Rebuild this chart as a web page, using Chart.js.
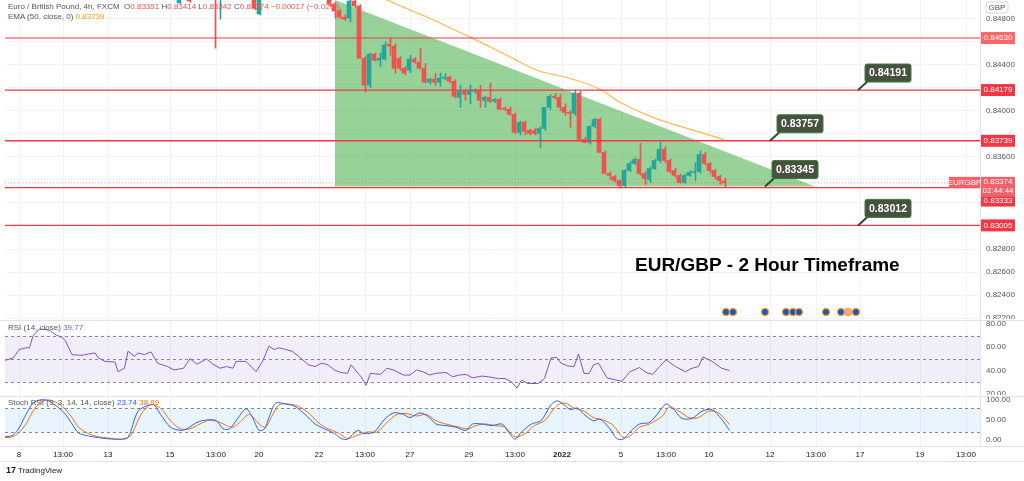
<!DOCTYPE html>
<html><head><meta charset="utf-8">
<script src="https://cdn.jsdelivr.net/npm/chart.js@4"></script>
<style>
html,body{margin:0;padding:0;background:#fff;width:1024px;height:481px;overflow:hidden;font-family:"Liberation Sans",Arial,sans-serif}
.pane{position:absolute;left:0;width:1024px}
.lbl{position:absolute;font-size:8px;color:#555;white-space:nowrap}
</style></head><body>
<div class="pane" style="top:0;height:319px"><canvas id="main"></canvas></div>
<div class="pane" style="top:320px;height:75px"><canvas id="rsi"></canvas></div>
<div class="pane" style="top:396px;height:66px"><canvas id="stoch"></canvas></div>
<div class="lbl" style="left:8px;top:2px">Euro / British Pound, 4h, FXCM&nbsp; O<span style="color:#ef5350">0.83391</span> H<span style="color:#ef5350">0.83414</span> L<span style="color:#ef5350">0.83342</span> C<span style="color:#ef5350">0.83374</span> <span style="color:#ef5350">−0.00017 (−0.02%)</span></div>
<div class="lbl" style="left:8px;top:12px">EMA (50, close, 0) <span style="color:#ff9800">0.83739</span></div>
<div class="lbl" style="left:8px;top:323px">RSI (14, close) <span style="color:#7e57c2">39.77</span></div>
<div class="lbl" style="left:8px;top:398px">Stoch RSI (3, 3, 14, 14, close) <span style="color:#2962ff">23.74</span> <span style="color:#ff6d00">38.89</span></div>
<div class="lbl" style="left:6px;top:465px;font-size:8px;color:#131722"><b style="font-size:9px">17</b> TradingView</div>
<script>
// ---- data ----
const tickPos = [2.8,11.6,20.6,33,42.2,50.8,62.8,72,81,92.8,102,111.4,123.2,132.2,140.8,153,162.2,171,183,192.2];
const tickLabels = ["8","13:00","13","15","13:00","20","22","13:00","27","29","13:00","2022","5","13:00","10","12","13:00","17","19","13:00"];
const priceTicks = [0.822,0.824,0.826,0.828,0.830,0.832,0.834,0.836,0.838,0.840,0.842,0.844,0.846,0.848];

const candleIdx = [35,37,42,43,50,51,
 65,66,67,68,69,70,71,72,73,74,75,76,77,78,79,80,81,82,83,84,85,86,87,88,89,90,91,92,93,94,95,96,97,98,99,100,101,102,103,104,
 105,106,107,108,109,110,111,112,113,114,115,116,117,118,119,120,121,122,123,124,125,126,127,128,129,130,131,132,133,134,135,136,137,138,139,140,141,142,143,144];
const cOpen = [.84935,.8505,.8510,.8508,.8505,.84838,
 .84960,.84925,.84864,.84812,.84803,.84951,.84908,.84455,.84221,.84490,.84438,.84447,.84577,.84560,.84455,.84368,.84351,.84447,.84421,.84368,
 .84247,.84273,.84247,.84281,.84290,.84255,.84116,.84168,.84142,.84168,.84177,.84090,.84116,.84081,.84099,.84020,.84012,.83968,.83812,.83899,
 .83829,.83829,.83803,.83846,.84029,.84125,.84116,.84029,.83986,.83977,.84151,.83751,.83725,.83864,.83925,.83638,.83455,.83429,.83394,.83351,
 .83481,.83542,.83577,.83455,.83403,.83498,.83568,.83664,.83568,.83481,.83438,.83377,.83438,.83464,.83472,.83620,.83542,.83481,.83429,.83391];
const cHigh = [.8510,.8508,.8515,.8512,.8508,.8508,
 .84990,.84940,.84880,.84830,.84965,.84980,.84920,.84470,.84500,.84500,.84500,.84595,.84630,.84580,.84470,.84380,.84480,.84460,.84540,.84410,
 .84280,.84325,.84325,.84320,.84300,.84270,.84221,.84180,.84221,.84190,.84221,.84125,.84240,.84110,.84110,.84030,.84030,.83980,.83910,.83910,
 .83840,.83850,.83860,.84029,.84140,.84150,.84140,.84060,.84000,.84177,.84170,.83770,.83870,.83935,.83935,.83650,.83470,.83440,.83400,.83490,
 .83560,.83590,.83716,.83470,.83510,.83580,.83725,.83690,.83580,.83500,.83450,.83450,.83480,.83550,.83650,.83640,.83550,.83490,.83440,.83414];
const cLow = [.8493,.8494,.84542,.84795,.84875,.84830,
 .84900,.84803,.84800,.84780,.84769,.84890,.84455,.84160,.84200,.84430,.84380,.84440,.84480,.84325,.84350,.84310,.84330,.84410,.84360,.84240,
 .84230,.84221,.84210,.84270,.84240,.84110,.84029,.84090,.84060,.84150,.84029,.84029,.84070,.84070,.84012,.84000,.83960,.83800,.83790,.83790,
 .83790,.83790,.83681,.83830,.84010,.84100,.84000,.83960,.83855,.83960,.83751,.83720,.83710,.83850,.83638,.83455,.83400,.83380,.83330,.83330,
 .83470,.83530,.83440,.83360,.83380,.83490,.83550,.83550,.83460,.83420,.83370,.83370,.83430,.83394,.83460,.83530,.83460,.83410,.83360,.83342];
const cClose = [.8505,.84951,.8508,.8510,.84890,.8505,
 .84925,.84864,.84812,.84795,.84951,.84908,.84455,.84221,.84490,.84438,.84455,.84569,.84560,.84368,.84368,.84325,.84447,.84421,.84368,.84247,
 .84273,.84247,.84281,.84290,.84255,.84125,.84168,.84142,.84168,.84177,.84090,.84116,.84081,.84099,.84012,.84012,.83968,.83812,.83899,.83820,
 .83803,.83803,.83846,.84029,.84125,.84116,.84029,.83986,.83977,.84151,.83751,.83725,.83864,.83925,.83638,.83455,.83438,.83394,.83351,.83481,
 .83542,.83577,.83455,.83412,.83498,.83568,.83664,.83568,.83472,.83438,.83377,.83438,.83464,.83472,.83620,.83542,.83481,.83429,.83394,.83374];

const emaIdx = [74,76.4,85,93,100,106.4,113.6,119,123,129.6,136.4,143,144];
const emaVal = [.8502,.8496,.8480,.84638,.84490,.84351,.84273,.84186,.84073,.83942,.83846,.83760,.83739];

const levels = [0.84630,0.84179,0.83739,0.83333,0.83005];
const levelLabels = ["0.84630","0.84179","0.83739","0.83333","0.83005"];
const triIdx = [66,162];
const triTop = 0.8496, triBase = 0.83342;
const lastPrice = 0.83374;

const callText = ["0.84191","0.83757","0.83345","0.83012"];
const callIdx = [170.6,153,152,170.6];
const callPrice = [0.84179,0.83739,0.83342,0.83005];

const rsiIdx = [0,1.6,2.9,4.2,4.9,5.6,6.9,8.8,10.2,11.5,12.1,13.4,15.4,16.7,18,18.7,20,22,22.6,23.9,24.6,25.9,26.6,27.9,29.2,30.5,32.5,33.8,35.7,37,38.4,40.3,41.6,43,44.3,45.6,46.2,48.2,50.2,51.5,52.8,53.8,54.8,56.1,57.4,58.7,60.7,62,63.3,64.6,65.9,67.2,68.5,69.2,69.8,71.2,72.2,73.1,75.1,76.4,77.7,79.7,81,82.3,83.6,84.9,86.2,88.2,89.5,90.8,92.2,93.5,95.4,96.7,98.7,100,101.3,102.4,103.3,104.6,106.6,107.9,109.2,110.3,111.2,112.5,113.8,114.7,115.8,116.8,117.7,118.7,120.4,122.3,123.4,125,126.9,128.2,129.5,130.9,132.2,134.1,136.1,137.4,138.7,139.6,141.4,143.3,144.9];
const rsiVal = [48.5,50.6,58,59.4,59.4,69.7,75.6,74.7,70.6,68.2,65.3,53.5,52.9,54.1,55,50.6,47.7,47.1,38.8,41.8,56.5,52.1,55,53.5,55.9,46.2,43.2,40.3,41.8,50,45.3,49.7,45.3,41.8,43.2,41.8,47.7,47.7,38.8,47.7,60.9,58,59.4,58,56.5,52.1,44.7,43.2,46.2,44.7,40.3,38,37.4,44.7,41.8,34.4,27.1,37.4,36.5,41.8,40.3,35.9,35.9,40.3,38.8,35.9,37.4,38.2,34.4,35.9,36.5,33.5,35,34.4,32.9,32.9,30,24.7,31.5,28.6,28.6,32.9,50.6,51.2,46.2,43.8,43.2,54.1,37.4,37.1,44.7,46.2,33.5,31.5,30.6,38.8,42.4,38.2,36.5,43.2,49.1,43.2,38.8,41.8,43.2,51.5,47.7,41.8,39.8];

const kIdx = [0,1.6,2.9,4.2,5.6,6.9,8.2,9.5,10.8,12.1,13.4,14.7,16.7,18.7,20.6,23.3,24.6,26.6,28.5,29.8,31.1,33.1,35.1,36.4,38.4,40.3,42.3,43.6,44.9,46.2,48.2,49.5,50.8,51.9,52.8,54.1,56.1,58,60,62,63.9,65.9,67.2,68.5,70.5,71.8,73.8,75.8,77.7,79.7,81,83,84.9,86.2,88.2,90.2,92.2,93.5,95.4,97.4,99.4,100.7,102,103.3,105.3,107.2,109.2,110.5,111.8,113.1,114.5,115.8,117.7,119,121,122.3,123.6,125,126.9,128.9,130.9,132.2,133.5,135.4,137.4,139.4,141.4,143.3,144.9];
const kVal = [8,12,32,64,92,100,100,92,80,64,40,18,10,6,3,2,6,72,86,88,64,32,24,28,44,50,48,28,28,48,78,56,24,28,56,92,90,84,64,40,28,16,4,2,24,16,20,50,68,64,56,68,56,40,36,32,24,40,40,36,40,20,2,20,40,48,88,98,88,76,80,64,48,52,28,4,2,20,40,44,72,90,80,54,54,72,76,52,24];
const dIdx = [0,1.6,2.9,4.2,5.6,6.9,8.2,9.5,10.8,12.1,13.4,14.7,16.7,18.7,20.6,23.3,25.2,27.2,29.2,31.1,33.1,35.1,37,39,41,43,44.3,45.6,46.9,48.9,50.8,52.1,53.4,54.8,56.7,58.7,60.7,62.6,64.6,66.6,68.5,70.5,72.5,74.4,76.4,78.4,80.3,82.3,84.3,86.2,88.2,90.8,92.8,94.1,96.1,98.1,100,102,104,105.9,107.9,109.9,111.2,112.5,113.8,115.8,117.7,119.7,121.7,123.6,125,126.9,128.9,131.5,132.8,134.8,136.8,138.7,140.7,142.7,144.9];
const dVal = [6,8,20,40,72,92,100,98,90,76,56,32,16,8,5,2,12,64,88,80,48,28,28,40,50,44,36,32,44,64,40,32,60,88,90,84,68,44,28,18,4,12,20,20,44,64,66,60,64,48,40,32,28,36,40,36,32,8,16,36,48,80,92,90,80,72,56,50,36,6,10,32,40,60,82,72,56,56,72,68,39];

// ---- helpers ----
const XMIN=0, XMAX=195;
const GRID='#f0f3fa';
function xScale(showTicks){
  return {type:'linear',min:XMIN,max:XMAX,display:true,offset:false,
    grid:{color:GRID,drawTicks:false,offset:false},border:{display:false},
    afterBuildTicks:s=>{s.ticks=tickPos.map(v=>({value:v}));},
    ticks:{display:showTicks,color:'#131722',font:(c)=>({size:8,family:'Liberation Sans',weight:(tickLabels[c.index]==='2022')?'bold':'normal'}),
      maxRotation:0,autoSkip:false,padding:4,callback:(v,i)=>tickLabels[i]},
    afterFit:s=>{s.height=showTicks?16:0;}};
}
function yScale(min,max,ticks,grid){
  return {type:'linear',position:'right',min,max,
    grid:{display:grid,color:GRID,drawTicks:false},border:{display:true,color:'#e0e3eb'},
    afterBuildTicks:s=>{s.ticks=ticks.map(v=>({value:v}));},
    ticks:{display:false},
    afterFit:s=>{s.width=44;}};
}
function yLabels(ticks,dec){
  return {id:'yl',afterDraw(ch){
    const c=ch.ctx,ys=ch.scales.y,R=ch.chartArea.right;
    c.save();c.fillStyle='#555';c.font='8px "Liberation Sans"';c.textAlign='left';c.textBaseline='middle';
    ticks.forEach(v=>c.fillText(v.toFixed(dec),R+6,ys.getPixelForValue(v)));
    c.restore();}};
}
const baseOpts={responsive:true,maintainAspectRatio:false,animation:false,
  layout:{padding:0},
  plugins:{legend:{display:false},tooltip:{enabled:false}},events:[]};

// ---- main chart ----
const isUp = cOpen.map((o,i)=>cClose[i]>=o);
const UP='#26a69a', DN='#ef5350';
const bodies = candleIdx.map((x,i)=>({x,y:[cOpen[i],cClose[i]]}));
const wicks = candleIdx.map((x,i)=>({x,y:[cLow[i],cHigh[i]]}));
const levelSets = levels.map((p,i)=>({type:'line',data:[{x:XMIN,y:p},{x:XMAX,y:p}],borderColor:i===0?'rgba(242,54,69,0.5)':'#f23645',borderWidth:i===0?2:1.3,pointRadius:0,order:0}));

const mainOverlay={id:'mainOverlay',
  afterDraw(ch){
    const c=ch.ctx,xs=ch.scales.x,ys=ch.scales.y,R=ch.chartArea.right;
    c.save();
    const ly=ys.getPixelForValue(lastPrice);
    c.setLineDash([1,2]);c.strokeStyle='rgba(242,54,69,0.5)';c.lineWidth=1;
    c.beginPath();c.moveTo(ch.chartArea.left,ly);c.lineTo(R,ly);c.stroke();c.setLineDash([]);
    c.font='bold 10.5px "Liberation Sans"';c.textBaseline='middle';c.textAlign='center';
    callText.forEach((t,i)=>{
      const ax=xs.getPixelForValue(callIdx[i]),ay=ys.getPixelForValue(callPrice[i]);
      const bx=ax+7,by=ay-26,bw=46,bh=18;
      c.strokeStyle='#2e4d2c';c.lineWidth=2;c.beginPath();c.moveTo(ax,ay);c.lineTo(bx+3,by+bh-1);c.stroke();
      c.fillStyle='#46513f';c.strokeStyle='#3a7d34';c.lineWidth=1;
      c.beginPath();c.roundRect(bx,by,bw,bh,2);c.fill();c.stroke();
      c.fillStyle='#fff';c.fillText(t,bx+bw/2,by+bh/2+0.5);
    });
    c.fillStyle='#000';c.font='bold 19px "Liberation Sans"';c.textAlign='left';c.textBaseline='alphabetic';
    c.fillText('EUR/GBP - 2 Hour Timeframe',635,271);
    [726,733,765,786,793,799,826,841,848,856].forEach((x,i)=>{
      c.beginPath();c.arc(x,312,3.6,0,Math.PI*2);c.fillStyle=(i===8)?'#f4a3a3':'#1e56c8';c.fill();
      c.lineWidth=1.3;c.strokeStyle='#f6a623';c.stroke();
    });
    c.font='8px "Liberation Sans"';c.textAlign='center';c.textBaseline='middle';
    levels.forEach((p,i)=>{
      let y=ys.getPixelForValue(p);
      if(i===3) y+=13;
      c.fillStyle=i===0?'#f66':'#f23645';c.fillRect(R+1,y-6,34,12);
      c.fillStyle='#fff';c.fillText(levelLabels[i],R+18,y);
    });
    c.fillStyle='#f26069';c.fillRect(R+1,ly-6,34,20);
    c.fillStyle='#fff';c.fillText(lastPrice.toFixed(5),R+18,ly-1);c.fillText('02:44:44',R+18,ly+8);
    c.fillStyle='#f26069';c.fillRect(R-31,ly-6,31,11);c.fillStyle='#fff';c.fillText('EURGBP',R-15.5,ly-0.5);
    c.strokeStyle='#d1d4dc';c.lineWidth=1;c.beginPath();c.roundRect(R+6,2,22,11,2);c.stroke();
    c.fillStyle='#555';c.fillText('GBP',R+17,8);
    c.restore();
  }};

// hide built-in labels hidden behind level boxes
const mainTickLabels = priceTicks.filter(v=>![0.842,0.838,0.834,0.830,0.846].includes(v));

new Chart(document.getElementById('main'),{
  data:{datasets:[
    {type:'line',data:[{x:triIdx[0],y:triTop},{x:triIdx[1],y:triBase}],borderWidth:0,pointRadius:0,
     fill:{value:triBase},backgroundColor:'rgba(56,168,60,0.52)',order:20},
    ...levelSets,
    {type:'line',data:emaIdx.map((x,i)=>({x,y:emaVal[i]})),borderColor:'#ffb74d',borderWidth:1.2,pointRadius:0,tension:0.3,order:1},
    {type:'bar',data:wicks,barThickness:1,backgroundColor:isUp.map(u=>u?UP:DN),order:3},
    {type:'bar',data:bodies,barThickness:3,backgroundColor:isUp.map(u=>u?UP:DN),order:2}
  ]},
  options:{...baseOpts,layout:{padding:{left:5}},scales:{x:xScale(false),y:yScale(0.82193,0.8496,priceTicks,true)}},
  plugins:[yLabels(mainTickLabels,5),mainOverlay]
});

function bandPlugin(lo,hi,color,dashes){
  return {id:'band',beforeDatasetsDraw(ch){
    const c=ch.ctx,ys=ch.scales.y,a=ch.chartArea;
    c.save();c.fillStyle=color;
    const y1=ys.getPixelForValue(hi),y2=ys.getPixelForValue(lo);
    c.fillRect(a.left,y1,a.right-a.left,y2-y1);
    c.strokeStyle='#888';c.lineWidth=1;c.setLineDash([3,3]);
    dashes.forEach(v=>{const y=Math.round(ys.getPixelForValue(v))+0.5;c.beginPath();c.moveTo(a.left,y);c.lineTo(a.right,y);c.stroke();});
    c.setLineDash([]);c.strokeStyle='#e0e3eb';c.beginPath();c.moveTo(0,0.5);c.lineTo(1024,0.5);c.stroke();
    c.restore();
  }};
}
new Chart(document.getElementById('rsi'),{
  type:'line',
  data:{datasets:[{data:rsiIdx.map((x,i)=>({x,y:rsiVal[i]})),borderColor:'#7e57c2',borderWidth:1,pointRadius:0}]},
  options:{...baseOpts,layout:{padding:{left:5}},scales:{x:xScale(false),y:yScale(18.7,83.4,[20,40,60,80],false)}},
  plugins:[bandPlugin(30,70,'rgba(126,87,194,0.1)',[70,50,30]),yLabels([20,40,60,80],2)]
});
new Chart(document.getElementById('stoch'),{
  type:'line',
  data:{datasets:[
    {data:kIdx.map((x,i)=>({x,y:kVal[i]})),borderColor:'#2962ff',borderWidth:1,pointRadius:0,tension:0.3},
    {data:dIdx.map((x,i)=>({x,y:dVal[i]})),borderColor:'#ff6d00',borderWidth:1,pointRadius:0,tension:0.3}]},
  options:{...baseOpts,layout:{padding:{left:5}},scales:{x:xScale(true),y:yScale(-15,110,[0,50,100],false)}},
  plugins:[bandPlugin(20,80,'rgba(33,150,243,0.1)',[80,20]),yLabels([0,50,100],2),
    {id:'bot',afterDraw(ch){const c=ch.ctx;c.save();c.strokeStyle='#e0e3eb';c.beginPath();c.moveTo(0,ch.chartArea.bottom+0.5);c.lineTo(1024,ch.chartArea.bottom+0.5);c.moveTo(0,65.5);c.lineTo(1024,65.5);c.stroke();c.restore();}}]
});
</script>
</body></html>
